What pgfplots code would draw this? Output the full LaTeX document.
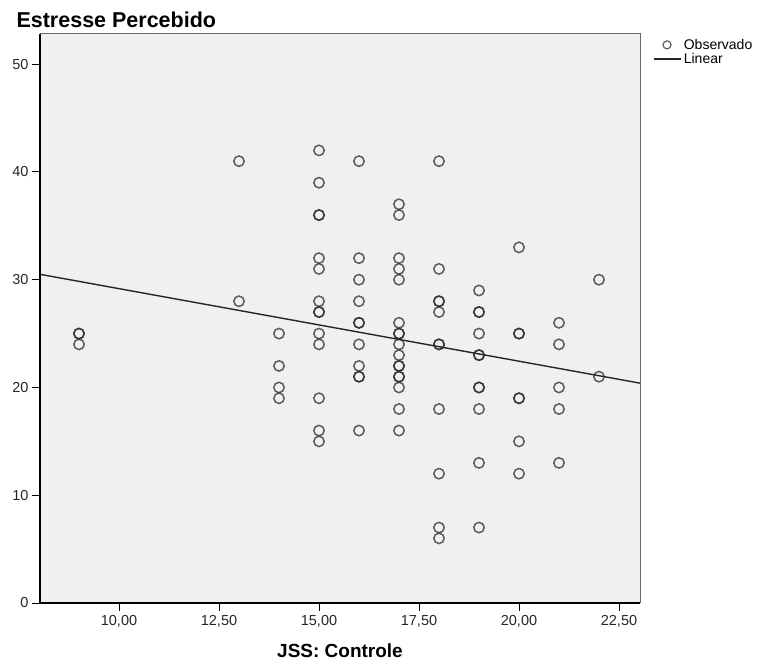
\documentclass[border=0pt]{standalone}
\usepackage{fontspec}
\setmainfont{Liberation Sans}
\usepackage{pgfplots}
\pgfplotsset{compat=1.18}
\definecolor{plotbg}{HTML}{F0F0F0}
\definecolor{markink}{HTML}{2A2A2A}

\begin{document}
\begin{tikzpicture}
\begin{axis}[
  at={(0,0)}, anchor=south west,
  width=600pt, height=569pt, scale only axis,
  xmin=8.025, xmax=23.025, ymin=0, ymax=52.8,
  xtick={10,12.5,15,17.5,20,22.5}, ytick={0,10,20,30,40,50},
  xticklabel style={yshift=-1pt, /pgf/number format/.cd, fixed, fixed zerofill, precision=2, use comma},
  /pgf/number format/assume math mode=true,
  tick label style={font=\fontsize{14.5}{16}\selectfont, text=black!85},
  tick align=outside, xtick pos=bottom, ytick pos=left,
  major tick length=8pt, tick style={black, line width=1pt},
  axis line style={draw=none},
  axis background/.style={fill=plotbg},
  xlabel={\bfseries JSS: Controle}, xlabel style={font=\fontsize{19}{21}\selectfont, yshift=-9pt},
  legend style={at={(1.0217,0.995)}, anchor=north west, draw=none, fill=none,
    font=\fontsize{14}{14}\selectfont, row sep=-1.5pt, inner sep=0pt},
  legend cell align=left,
  clip=false]
\addplot[only marks, mark=o, mark size=5.2pt, draw=markink, draw opacity=0.75, line width=1.5pt,
  legend image code/.code={\draw[black!85, line width=1.2pt] (13pt,0) circle (4pt);}]
  coordinates {
  (9,25) (9,25) (9,24)
  (13,41) (13,28)
  (14,25) (14,22) (14,20) (14,19)
  (15,42) (15,39) (15,36) (15,36) (15,32) (15,31) (15,28) (15,27) (15,27) (15,25) (15,24) (15,19) (15,16) (15,15)
  (16,41) (16,32) (16,30) (16,28) (16,26) (16,26) (16,24) (16,22) (16,21) (16,21) (16,16)
  (17,37) (17,36) (17,32) (17,31) (17,30) (17,26) (17,25) (17,25) (17,24) (17,23) (17,22) (17,22) (17,21) (17,21) (17,20) (17,18) (17,16)
  (18,41) (18,31) (18,28) (18,28) (18,27) (18,24) (18,24) (18,18) (18,12) (18,7) (18,6)
  (19,29) (19,27) (19,27) (19,25) (19,23) (19,23) (19,20) (19,20) (19,18) (19,13) (19,7)
  (20,33) (20,25) (20,25) (20,19) (20,19) (20,15) (20,12)
  (21,26) (21,24) (21,20) (21,18) (21,13)
  (22,30) (22,21)
  };
\addlegendentry{Observado}
\addplot[black!85, line width=1.4pt, no marks,
  legend image code/.code={\draw[black!85, line width=1.6pt] (0pt,0) -- (27pt,0);}]
  coordinates {(8.025,30.5) (23.025,20.4)};
\addlegendentry{Linear}
\draw[gray!80!black, line width=1pt] (rel axis cs:0,1) -- (rel axis cs:1,1) -- (rel axis cs:1,0);
\draw[black, line width=1.4pt] (rel axis cs:0,1) -- (rel axis cs:0,0) -- (rel axis cs:1,0);
\end{axis}
\node[anchor=base west, font=\fontsize{21.5}{23}\selectfont\bfseries] at (-27pt,575pt) {Estresse Percebido};
\useasboundingbox (-40pt,-61pt) rectangle (718pt,603pt);
\end{tikzpicture}
\end{document}
